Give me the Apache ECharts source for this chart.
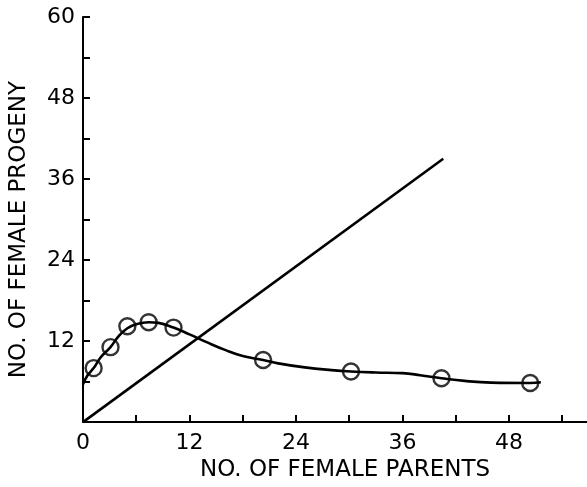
<!DOCTYPE html>
<html>
<head>
<meta charset="utf-8">
<script src="https://cdn.jsdelivr.net/npm/echarts@6/dist/echarts.min.js"></script>
<style>html,body{margin:0;padding:0;background:#fff;}#c{width:587px;height:487px;}</style>
</head>
<body>
<div id="c"></div>
<script>
// Observed points (female parents, female progeny)
const parents = [1.2, 3.1, 5, 7.4, 10.2, 20.3, 30.2, 40.4, 50.4];
const progeny = [8, 11.1, 14.2, 14.8, 14.0, 9.2, 7.5, 6.5, 5.8];
// Fitted curve
const curveX = [0, 0.5, 1.2, 2, 3.1, 4, 5, 6, 7.4, 8.5, 10.2, 12, 14, 16, 18, 20.3, 22, 25, 28, 30.2, 33, 36, 38, 40.4, 43, 46, 50.4, 51.6];
const curveY = [5.6, 6.9, 8.0, 9.6, 11.1, 12.7, 13.9, 14.5, 14.8, 14.7, 14.0, 13.0, 11.8, 10.7, 9.8, 9.2, 8.7, 8.1, 7.7, 7.5, 7.35, 7.25, 6.95, 6.5, 6.1, 5.85, 5.8, 5.9];
// Replacement line
const lineX = [0, 40.6];
const lineY = [0, 39];
const xTickLabels = [0, 12, 24, 36, 48];
const xTickMarks = [0, 6, 12, 18, 24, 30, 36, 42, 48, 54];
const yTickLabels = [12, 24, 36, 48, 60];
const yTickMarks = [0, 6, 12, 18, 24, 30, 36, 42, 48, 54, 60];

const font = 'DejaVu Sans';
const chart = echarts.init(document.getElementById('c'));
chart.setOption({
  animation: false,
  backgroundColor: '#fff',
  grid: {left: 75, top: 17, right: 0, bottom: 59, containLabel: false},
  xAxis: {
    type: 'value', min: 0, max: 56.8,
    name: 'NO. OF FEMALE PARENTS', nameLocation: 'middle', nameGap: 34,
    nameTextStyle: {color: '#000', fontSize: 23, fontFamily: font, padding: [0, 0, 0, 20]},
    axisLine: {show: true, onZero: false, lineStyle: {color: '#000', width: 2}},
    axisTick: {show: true, inside: true, length: 7, customValues: xTickMarks, lineStyle: {color: '#000', width: 2}},
    axisLabel: {color: '#000', fontSize: 22, fontFamily: font, margin: 10, customValues: xTickLabels},
    splitLine: {show: false}
  },
  yAxis: {
    type: 'value', min: 0, max: 60,
    name: 'NO. OF FEMALE PROGENY', nameLocation: 'middle', nameGap: 52,
    nameTextStyle: {color: '#000', fontSize: 23, fontFamily: font, padding: [0, 20, 0, 0]},
    axisLine: {show: true, onZero: false, lineStyle: {color: '#000', width: 2}},
    axisTick: {show: true, inside: true, length: 7, customValues: yTickMarks, lineStyle: {color: '#000', width: 2}},
    axisLabel: {color: '#000', fontSize: 22, fontFamily: font, margin: 8, customValues: yTickLabels},
    splitLine: {show: false}
  },
  series: [
    {type: 'line', data: curveX.map((x, i) => [x, curveY[i]]), smooth: 0.45,
      showSymbol: false, lineStyle: {color: '#000', width: 2.6}},
    {type: 'line', data: lineX.map((x, i) => [x, lineY[i]]),
      showSymbol: false, lineStyle: {color: '#000', width: 2.6}},
    {type: 'scatter', data: parents.map((x, i) => [x, progeny[i]]),
      symbol: 'circle', symbolSize: 16,
      itemStyle: {color: 'rgba(255,255,255,0)', borderColor: '#000', borderWidth: 2.4}}
  ]
});
</script>
</body>
</html>
